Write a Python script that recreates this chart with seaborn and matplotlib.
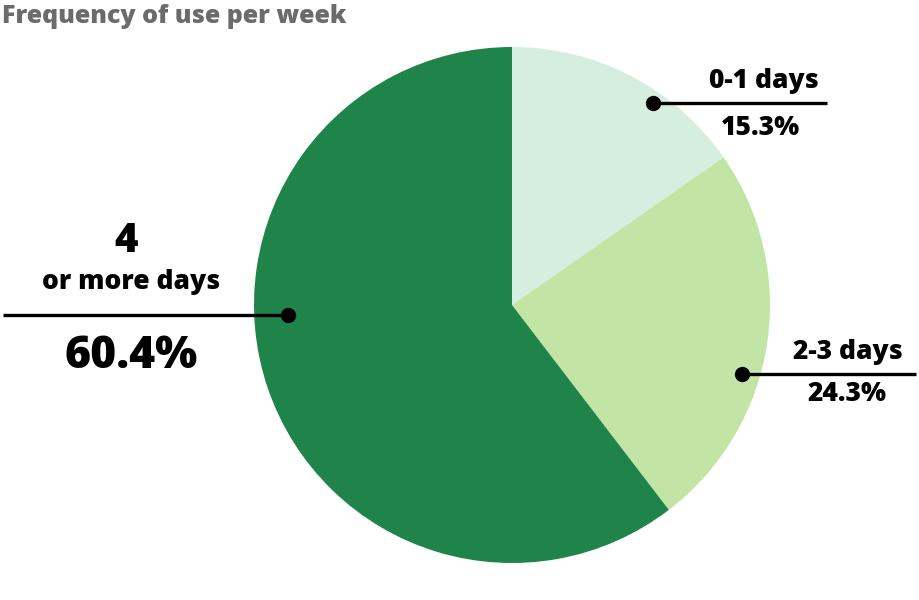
import matplotlib
matplotlib.use("Agg")
import matplotlib.pyplot as plt
import seaborn as sns

categories = ["0-1 days", "2-3 days", "4\nor more days"]
shares = [15.3, 24.3, 60.4]
share_labels = ["15.3%", "24.3%", "60.4%"]
colors = ["#d5eee0", "#c2e4a4", "#1f8449"]
title = "Frequency of use per week"

sns.set_theme(style="white")
plt.rcParams["font.family"] = ["Open Sans", "DejaVu Sans"]

fig = plt.figure(figsize=(9.2, 6.0), dpi=100)
ax = fig.add_axes([0, 0, 1, 1])

H = 600
cx, cy, r = 512, H - 305, 258
ax.pie(shares, colors=colors, startangle=90, counterclock=False,
       center=(cx, cy), radius=r, wedgeprops=dict(linewidth=0),
       frame=True)
ax.set_xlim(0, 920)
ax.set_ylim(0, 600)
ax.set_aspect("equal")
ax.axis("off")

def leader(x0, x1, y):
    ax.plot([x0, x1], [H - y, H - y], color="black", lw=2.4, solid_capstyle="butt")
    ax.plot([x0], [H - y], "o", color="black", ms=10)

kw = dict(color="black", fontweight=800, ha="center", va="center")
# 0-1 days
leader(653, 827, 103)
ax.text(764, H - 81, categories[0], fontsize=19, **kw)
ax.text(760, H - 128, share_labels[0], fontsize=19, **kw)
# 2-3 days
leader(742, 916, 374)
ax.text(848, H - 352, categories[1], fontsize=19, **kw)
ax.text(847, H - 394, share_labels[1], fontsize=19, **kw)
# 4 or more days
leader(288, 3, 315)
big, small = categories[2].split("\n")
ax.text(126, H - 241, big, fontsize=29, **kw)
ax.text(131, H - 282, small, fontsize=19, **kw)
ax.text(131, H - 356, share_labels[2], fontsize=32, **kw)

ax.text(2, H - 16, title, fontsize=18, fontweight=800, color="#6b6b6b",
        ha="left", va="center")

fig.savefig("out.png", dpi=100, facecolor="white")
